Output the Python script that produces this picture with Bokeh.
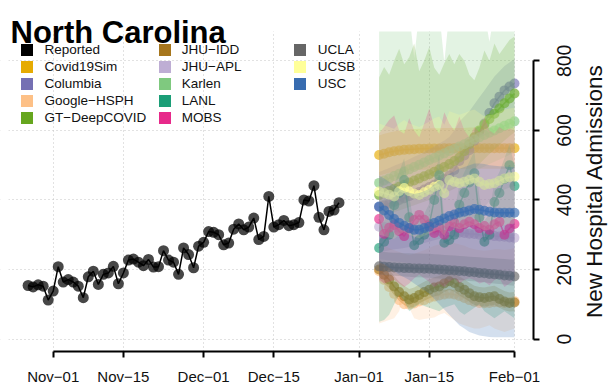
import math
import pandas as pd
from bokeh.plotting import figure
from bokeh.models import (ColumnDataSource, Range1d, FixedTicker, Legend, LegendItem,
                          Label, DatetimeTickFormatter, BoxAnnotation)
from bokeh.embed import file_html
from bokeh.resources import INLINE

# ---------------- data ----------------
title_text = "North Carolina"
y_title = "New Hospital Admissions"

x_tick_dates = ["2020-11-01", "2020-11-15", "2020-12-01", "2020-12-15",
                "2021-01-01", "2021-01-15", "2021-02-01"]
x_tick_labels = ["Nov\u221201", "Nov\u221215", "Dec\u221201", "Dec\u221215",
                 "Jan\u221201", "Jan\u221215", "Feb\u221201"]
y_ticks = [0, 200, 400, 600, 800]

reported_start = "2020-10-27"
reported = [154, 150, 156, 152, 112, 138, 208, 164, 171, 164, 152, 119, 179, 195, 157,
            186, 190, 209, 159, 190, 227, 230, 221, 211, 229, 207, 208, 254, 227, 221,
            186, 262, 243, 205, 267, 278, 309, 307, 300, 271, 276, 316, 331, 314, 322,
            348, 286, 295, 410, 322, 329, 341, 326, 329, 335, 400, 397, 441, 350, 314,
            367, 371, 392]

forecast_start = "2021-01-05"
forecast_days = 28

model_names = ["Covid19Sim", "Columbia", "Google\u2212HSPH", "GT\u2212DeepCOVID", "JHU\u2212IDD",
               "JHU\u2212APL", "Karlen", "LANL", "MOBS", "UCLA", "UCSB", "USC"]
model_colors = ["#E6AB02", "#7570B3", "#FDC086", "#66A61E", "#A6761D",
                "#BEAED4", "#7FC97F", "#1B9E77", "#E7298A", "#666666", "#FFFF99", "#386CB0"]
reported_color = "#000000"

covid19sim_med = [529, 533, 537, 540, 542, 544, 545, 546, 547, 547, 548, 548, 548, 549,
                  549, 549, 549, 549, 549, 549, 549, 549, 549, 549, 549, 549, 549, 549]
covid19sim_lo = [470, 474, 478, 480, 482, 484, 485, 486, 487, 487, 488, 488, 488, 489,
                 489, 489, 489, 489, 490, 490, 490, 490, 490, 490, 490, 490, 490, 490]
covid19sim_hi = [585, 590, 594, 597, 600, 602, 603, 604, 605, 605, 606, 606, 606, 607,
                 607, 607, 607, 607, 608, 608, 608, 608, 608, 608, 608, 608, 608, 608]

columbia_med = [380, 385, 390, 395, 400, 405, 411, 417, 423, 430, 437, 444, 452, 460,
                470, 486, 512, 528, 543, 570, 596, 620, 650, 678, 697, 715, 726, 735]
columbia_lo = [250, 252, 255, 258, 260, 262, 265, 268, 272, 276, 280, 284, 288, 292,
               297, 305, 318, 328, 338, 352, 366, 380, 396, 410, 420, 430, 436, 440]
columbia_hi = [480, 486, 492, 498, 504, 510, 517, 524, 531, 538, 546, 554, 562, 571,
               581, 600, 625, 640, 655, 675, 695, 715, 735, 755, 770, 785, 795, 805]

google_med = [195, 170, 150, 130, 112, 100, 99, 102, 108, 112, 118, 122, 125, 128,
              130, 128, 124, 118, 112, 107, 104, 103, 104, 106, 105, 104, 106, 109]
google_lo = [45, 50, 55, 60, 80, 136, 90, 60, 55, 58, 60, 62, 70, 75,
             65, 55, 45, 40, 35, 30, 30, 35, 40, 30, 25, 20, 25, 30]
google_hi = [280, 270, 262, 255, 250, 245, 242, 245, 250, 255, 262, 268, 272, 275,
             278, 276, 272, 268, 262, 258, 255, 254, 255, 258, 258, 256, 258, 262]

gt_med = [414, 420, 426, 432, 438, 444, 450, 456, 462, 468, 474, 481, 488, 495,
          503, 512, 522, 540, 560, 580, 600, 617, 633, 648, 663, 678, 692, 706]
gt_lo = [350, 355, 360, 365, 370, 375, 380, 385, 390, 395, 400, 406, 412, 418,
         425, 432, 440, 455, 470, 487, 503, 518, 532, 545, 558, 571, 583, 595]
gt_hi = [752, 782, 760, 800, 835, 790, 810, 850, 770, 801, 840, 780, 760, 793,
         820, 790, 820, 800, 760, 744, 780, 830, 800, 850, 820, 840, 860, 870]

jhuidd_med = [200, 185, 171, 151, 135, 123, 114, 118, 127, 135, 142, 148, 151, 160,
              166, 161, 150, 142, 132, 123, 120, 118, 121, 123, 115, 108, 104, 105]
jhuidd_lo = [175, 160, 146, 126, 110, 98, 89, 93, 102, 110, 117, 123, 126, 135,
             141, 136, 125, 117, 107, 98, 95, 93, 96, 98, 90, 83, 79, 80]
jhuidd_hi = [230, 215, 201, 181, 165, 153, 144, 148, 157, 165, 172, 178, 181, 190,
             196, 191, 180, 172, 162, 153, 150, 148, 151, 153, 145, 138, 134, 135]

jhuapl_med = [323, 322, 321, 320, 319, 318, 317, 316, 315, 314, 313, 312, 311, 310,
              309, 308, 306, 305, 303, 302, 300, 299, 298, 296, 295, 294, 292, 291]
jhuapl_lo = [230, 228, 226, 224, 222, 220, 218, 216, 214, 212, 210, 208, 206, 204,
             202, 200, 198, 196, 194, 192, 190, 188, 186, 184, 182, 180, 178, 176]
jhuapl_hi = [420, 422, 421, 424, 423, 426, 425, 428, 427, 430, 429, 432, 431, 434,
             433, 436, 435, 438, 437, 440, 439, 442, 441, 444, 443, 446, 445, 447]

karlen_med = [449, 456, 462, 469, 475, 482, 488, 495, 501, 508, 515, 521, 528, 534,
              541, 547, 554, 560, 567, 574, 580, 587, 593, 600, 606, 613, 619, 626]
karlen_lo = [360, 366, 371, 378, 384, 390, 397, 404, 410, 417, 424, 430, 437, 443,
             450, 456, 463, 470, 476, 483, 490, 496, 503, 510, 516, 523, 530, 536]
karlen_hi = [960, 960, 960, 960, 960, 960, 940, 808, 940, 960, 960, 960, 940, 795,
             940, 960, 960, 960, 960, 960, 960, 940, 855, 940, 960, 960, 960, 960]

lanl_med = [262, 280, 300, 385, 420, 457, 350, 270, 285, 300, 330, 400, 471, 277,
            285, 300, 386, 420, 450, 477, 350, 280, 300, 394, 420, 460, 500, 440]
lanl_lo = [50, 55, 70, 100, 127, 110, 80, 90, 100, 95, 90, 85, 80, 90,
           95, 100, 80, 70, 80, 90, 100, 80, 70, 60, 70, 80, 70, 60]
lanl_hi = [320, 340, 360, 445, 480, 520, 410, 330, 345, 360, 390, 460, 530, 340,
           345, 360, 446, 480, 510, 540, 410, 340, 360, 454, 480, 520, 560, 500]

mobs_med = [345, 302, 320, 328, 310, 296, 318, 342, 357, 343, 325, 305, 320, 300,
            324, 335, 319, 330, 337, 330, 319, 325, 314, 330, 337, 300, 318, 331]
mobs_lo = [170, 160, 165, 170, 160, 150, 160, 175, 185, 175, 165, 150, 160, 150,
           165, 175, 160, 170, 175, 170, 160, 165, 155, 170, 175, 150, 160, 170]
mobs_hi = [592, 610, 630, 643, 600, 590, 635, 600, 580, 620, 663, 610, 590, 652,
           620, 600, 640, 600, 580, 610, 595, 638, 600, 590, 610, 600, 605, 600]

ucla_med = [209, 208, 207, 206, 205, 204, 204, 203, 203, 202, 202, 201, 200, 199,
            198, 197, 196, 195, 193, 192, 190, 189, 187, 186, 185, 183, 182, 180]
ucla_lo = [185, 184, 183, 182, 181, 180, 179, 178, 178, 177, 176, 175, 174, 173,
           172, 171, 170, 169, 167, 166, 164, 163, 161, 160, 158, 157, 155, 153]
ucla_hi = [250, 250, 249, 248, 248, 247, 247, 246, 246, 245, 245, 244, 243, 242,
           241, 240, 239, 238, 237, 236, 235, 234, 233, 232, 231, 230, 229, 228]

ucsb_med = [424, 420, 415, 410, 425, 434, 425, 418, 414, 422, 429, 438, 443, 419,
            457, 452, 448, 452, 458, 462, 452, 443, 446, 448, 455, 462, 465, 467]
ucsb_lo = [300, 296, 292, 288, 300, 308, 300, 294, 290, 297, 303, 310, 314, 296,
           325, 320, 316, 320, 325, 328, 320, 312, 315, 316, 322, 328, 330, 332]
ucsb_hi = [620, 615, 610, 605, 620, 630, 620, 615, 610, 618, 625, 635, 640, 616,
           655, 650, 645, 650, 656, 660, 650, 640, 644, 646, 653, 660, 663, 665]

usc_med = [381, 370, 357, 345, 334, 326, 319, 314, 314, 319, 323, 334, 340, 347,
           354, 358, 363, 366, 370, 374, 372, 369, 366, 364, 363, 363, 363, 363]
usc_lo = [220, 215, 205, 195, 185, 178, 170, 160, 150, 140, 130, 115, 100, 85,
          70, 55, 40, 30, 20, 15, 10, 8, 6, 5, 5, 5, 5, 5]
usc_hi = [470, 462, 452, 442, 432, 425, 420, 418, 420, 425, 432, 445, 455, 465,
          475, 482, 490, 495, 500, 505, 505, 503, 500, 498, 497, 496, 495, 495]

model_series = [
    (covid19sim_med, covid19sim_lo, covid19sim_hi),
    (columbia_med, columbia_lo, columbia_hi),
    (google_med, google_lo, google_hi),
    (gt_med, gt_lo, gt_hi),
    (jhuidd_med, jhuidd_lo, jhuidd_hi),
    (jhuapl_med, jhuapl_lo, jhuapl_hi),
    (karlen_med, karlen_lo, karlen_hi),
    (lanl_med, lanl_lo, lanl_hi),
    (mobs_med, mobs_lo, mobs_hi),
    (ucla_med, ucla_lo, ucla_hi),
    (ucsb_med, ucsb_lo, ucsb_hi),
    (usc_med, usc_lo, usc_hi),
]

# ---------------- figure ----------------
FONT = "Liberation Sans"
ref_ms = pd.Timestamp("2020-11-01").value / 1e6
day_ms = 86400000.0
x_left_ms = ref_ms - 10.51 * day_ms     # canvas left edge
x_right_ms = ref_ms + 110.75 * day_ms   # canvas right edge
x_region_left = ref_ms - 8.91 * day_ms   # original plot region (R) left
x_region_right = ref_ms + 95.79 * day_ms  # original plot region right = y-axis
y_region_top = 884.6

p = figure(width=608, height=387, x_axis_type="datetime", y_axis_location="left",
           x_range=Range1d(x_left_ms, x_right_ms), y_range=Range1d(-35.8, 973.5),
           output_backend="svg", toolbar_location=None,
           min_border_left=0, min_border_top=0, min_border_right=0,
           min_border_bottom=35)
p.outline_line_color = None
p.background_fill_color = "white"
p.border_fill_color = "white"

tick_ms = [pd.Timestamp(d).value / 1e6 for d in x_tick_dates]

xa = p.xaxis[0]
xa.ticker = FixedTicker(ticks=tick_ms)
xa.formatter = DatetimeTickFormatter(days="%b\u2212%d", months="%b\u2212%d",
                                     years="%b\u2212%d", hours="%b\u2212%d")
xa.major_label_overrides = {t: lab for t, lab in zip(tick_ms, x_tick_labels)}
xa.bounds = (tick_ms[0], tick_ms[-1])
xa.axis_line_width = 2
xa.major_tick_line_width = 2
xa.major_tick_out = 6
xa.major_tick_in = 0
xa.minor_tick_line_color = None
xa.major_label_text_font = FONT
xa.major_label_text_font_size = "15px"
xa.major_label_text_color = "#111111"
xa.major_label_standoff = 10

# y axis drawn at the right edge of the original plotting region
ya = p.yaxis[0]
ya.fixed_location = x_region_right
ya.ticker = FixedTicker(ticks=y_ticks)
ya.bounds = (y_ticks[0], y_ticks[-1])
ya.major_label_orientation = "parallel"
ya.axis_line_width = 2
ya.major_tick_line_width = 2
ya.major_tick_out = 0
ya.major_tick_in = 6
ya.minor_tick_line_color = None
ya.major_label_text_font = FONT
ya.major_label_text_font_size = "19.5px"
ya.major_label_text_color = "#111111"
ya.major_label_standoff = -38

for g in (p.xgrid[0], p.ygrid[0]):
    g.grid_line_color = "#c4c4c4"
    g.grid_line_dash = "1 3"
    g.grid_line_width = 1
p.xgrid[0].ticker = FixedTicker(ticks=tick_ms)
p.ygrid[0].ticker = FixedTicker(ticks=y_ticks)

# blank the grid outside the original plotting region
p.add_layout(BoxAnnotation(left=x_region_right, fill_color="white", fill_alpha=1.0,
                           line_color=None, level="underlay"))
p.add_layout(BoxAnnotation(right=x_region_left, fill_color="white", fill_alpha=1.0,
                           line_color=None, level="underlay"))

legend_renderers = {}

# reported
rep_dates = pd.date_range(reported_start, periods=len(reported), freq="D")
rep_src = ColumnDataSource(dict(x=rep_dates, y=reported))
p.line("x", "y", source=rep_src, line_color=reported_color, line_width=1.5)
p.scatter("x", "y", source=rep_src, size=11, fill_color=reported_color,
          fill_alpha=0.72, line_color=None)
legend_renderers["Reported"] = p.quad(left="x", right="x", bottom="y", top="y",
                                      source=rep_src, fill_color=reported_color,
                                      line_color=None)

# forecasts
BAND_ALPHA = 0.22
f_dates = pd.date_range(forecast_start, periods=forecast_days, freq="D")
for name, col, (med, lo, hi) in zip(model_names, model_colors, model_series):
    src = ColumnDataSource(dict(x=f_dates, med=med, lo=lo, hi=hi))
    p.varea(x="x", y1="lo", y2="hi", source=src, fill_color=col, fill_alpha=BAND_ALPHA)
    p.line("x", "med", source=src, line_color=col, line_width=1.5, line_alpha=0.6)
    p.scatter("x", "med", source=src, size=10, fill_color=col, fill_alpha=0.65,
              line_color=None)
    legend_renderers[name] = p.quad(left="x", right="x", bottom="med", top="med",
                                    source=src, fill_color=col, line_color=None)

# white strip above the original plotting region (clips the open bands)
p.add_layout(BoxAnnotation(bottom=y_region_top, fill_color="white", fill_alpha=1.0,
                           line_color=None))

# legends (3 columns)
all_names = ["Reported"] + model_names
columns = [(all_names[0:5], (18.5, 225), 11),
           (all_names[5:10], (156.8, 225), 10),
           (all_names[10:13], (291.8, 259), 11)]
for names, loc, standoff in columns:
    items = [LegendItem(label=n, renderers=[legend_renderers[n]]) for n in names]
    leg = Legend(items=items, location=loc, orientation="vertical", padding=0, margin=0,
                 spacing=0, glyph_width=15, glyph_height=15, label_height=17,
                 label_standoff=standoff, label_text_font=FONT,
                 label_text_font_size="13.5px", label_text_color="#111111",
                 border_line_color=None, background_fill_alpha=0)
    p.add_layout(leg)

p.add_layout(Label(x=10, y=319, x_units="screen", y_units="screen", text=title_text,
                   text_font=FONT, text_font_style="bold", text_font_size="31px",
                   text_color="#000000", text_baseline="alphabetic", text_align="left"))
p.add_layout(Label(x=594, y=160.5, x_units="screen", y_units="screen", text=y_title,
                   angle=math.pi / 2, text_font=FONT, text_font_size="22.5px",
                   text_color="#111111", text_baseline="alphabetic", text_align="center"))

open("out.html", "w").write(file_html(p, INLINE))
